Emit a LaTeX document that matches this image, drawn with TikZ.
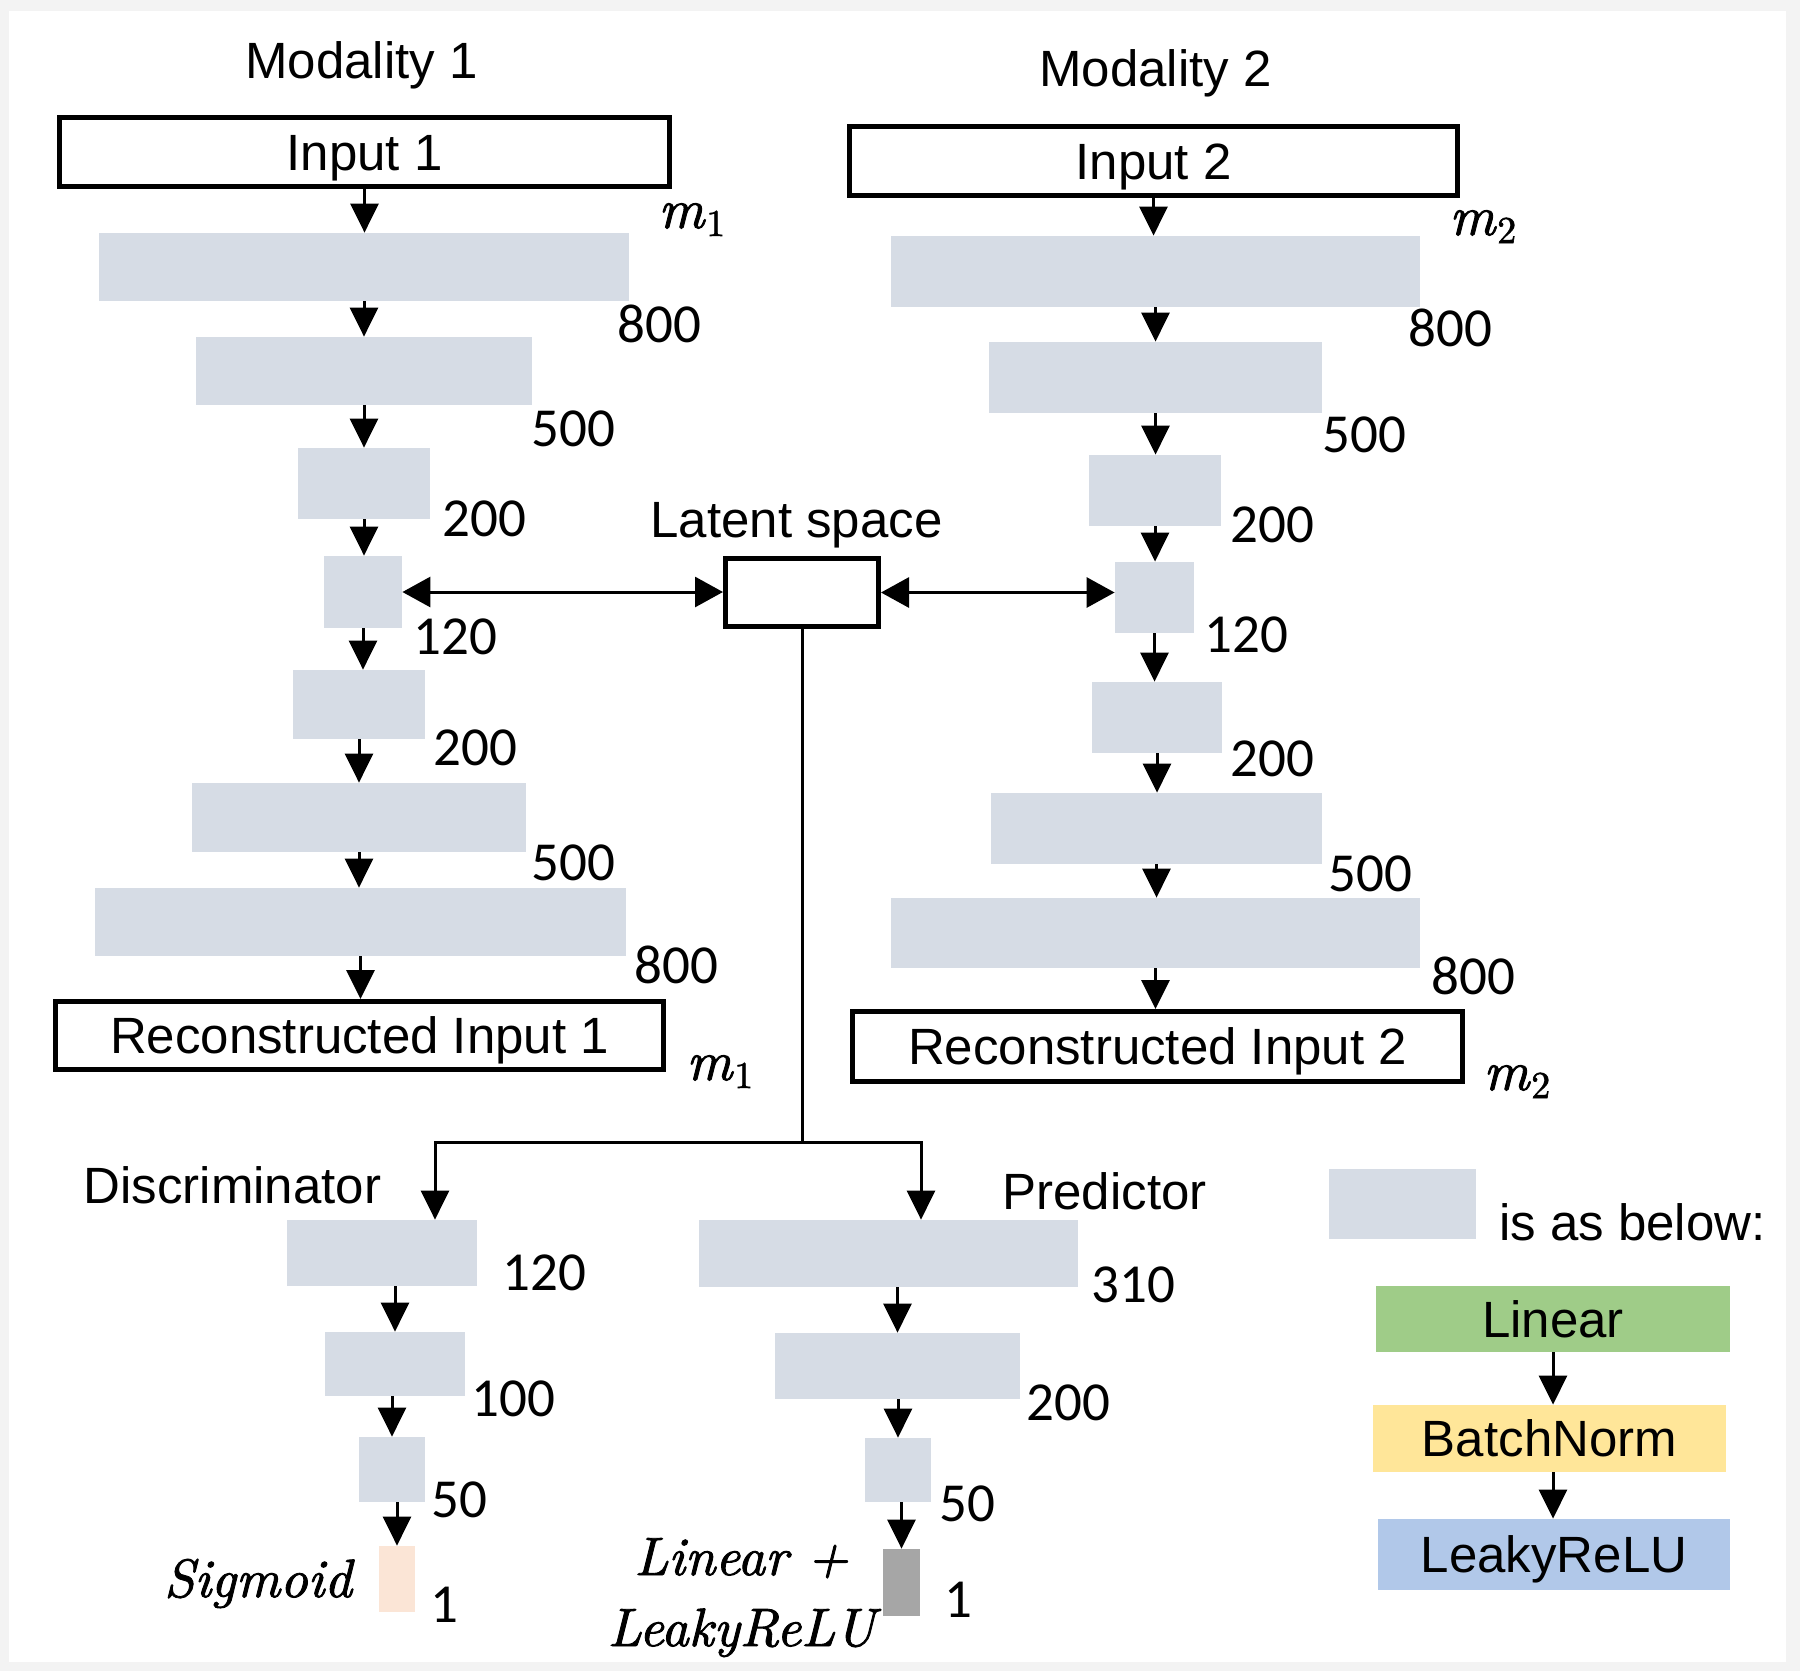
\documentclass[tikz,border=0pt]{standalone}
\usepackage{fontspec}
\newfontfamily\arialf{Liberation Sans}
\newfontfamily\numfont{Carlito}
\newfontfamily\itfont{lmroman10-italic.otf}[FakeBold=1.6]
\newfontfamily\itsubfont{lmroman10-regular.otf}[FakeBold=1.6]
\usetikzlibrary{arrows.meta,calc}
\definecolor{barc}{HTML}{D6DCE5}
\definecolor{greenc}{HTML}{9FCC88}
\definecolor{yellowc}{HTML}{FFE699}
\definecolor{bluec}{HTML}{B1C8E9}
\definecolor{peachc}{HTML}{FBE5D6}
\definecolor{greyc}{HTML}{A6A6A6}
\definecolor{framec}{HTML}{F3F3F3}
\newcommand{\msub}[2]{{\itfont #1}\kern1pt\raisebox{-4pt}{\itsubfont\fontsize{19}{20}\selectfont #2}}
\tikzset{
  bar/.style={fill=barc, inner sep=0pt},
  iobox/.style={draw, line width=2.5pt, fill=white, inner sep=0pt,
    font=\arialf\fontsize{25.5}{28}\selectfont, text height=18.3pt, text depth=0pt},
  legbox/.style={inner sep=0pt, font=\arialf\fontsize{25.5}{28}\selectfont,
    text height=18.3pt, text depth=0pt},
  sans/.style={inner sep=0pt, anchor=base, font=\arialf\fontsize{25.5}{28}\selectfont},
  num/.style={inner sep=0pt, anchor=base west, font=\numfont\fontsize{27.5}{30}\selectfont},
  mth/.style={inner sep=0pt, anchor=base west, font=\fontsize{28}{30}\selectfont},
  mthc/.style={inner sep=0pt, anchor=base, font=\itfont\fontsize{27}{30}\selectfont},
  arr/.style={line width=1.5pt, -{Triangle[length=14.5pt,width=14pt]}},
  darr/.style={line width=1.5pt, {Triangle[length=14pt,width=15pt]}-{Triangle[length=14pt,width=15pt]}},
  ln/.style={line width=1.5pt}
}
\begin{document}
\begin{tikzpicture}[x=0.5pt,y=-0.5pt]
\path[use as bounding box] (0,0) rectangle (1800,1671);
\fill[framec] (0,0) rectangle (1800,1671);
\fill[white] (9,11) rectangle (1786,1662);

% ---------- Modality 1 ----------
\node[sans] (mod1) at (361.5,78) {Modality 1};
\node[iobox, minimum width=305pt, minimum height=34.5pt] (in1) at (364.5,152) {Input 1};
\node[bar, minimum width=265pt, minimum height=34pt] (L1) at (364,267) {};
\node[bar, minimum width=168pt, minimum height=34pt] (L2) at (364,371) {};
\node[bar, minimum width=66pt, minimum height=35.5pt] (L3) at (364,483.5) {};
\node[bar, minimum width=39pt, minimum height=36pt] (L4) at (363,592) {};
\node[bar, minimum width=66pt, minimum height=34.5pt] (L5) at (359,704.5) {};
\node[bar, minimum width=167pt, minimum height=34.5pt] (L6) at (359,817.5) {};
\node[bar, minimum width=265.5pt, minimum height=34pt] (L7) at (360.5,922) {};
\node[iobox, minimum width=304pt, minimum height=34pt] (rec1) at (359.5,1035.5) {Reconstructed Input 1};

\node[mth] (mA) at (658,228) {\msub{m}{1}};
\node[num] (nL1) at (617,342) {800};
\node[num] (nL2) at (531,446) {500};
\node[num] (nL3) at (442,536) {200};
\node[num] (nL4) at (413,654) {120};
\node[num] (nL5) at (433,765) {200};
\node[num] (nL6) at (531,880) {500};
\node[num] (nL7) at (634,983) {800};
\node[mth] (mB) at (686,1080) {\msub{m}{1}};

\draw[arr] (in1.south) -- (in1.south |- L1.north);
\draw[arr] (L1.south) -- (L1.south |- L2.north);
\draw[arr] (L2.south) -- (L2.south |- L3.north);
\draw[arr] (L3.south) -- (L3.south |- L4.north);
\draw[arr] (L4.south) -- (L4.south |- L5.north);
\draw[arr] (L5.south) -- (L5.south |- L6.north);
\draw[arr] (L6.south) -- (L6.south |- L7.north);
\draw[arr] (L7.south) -- (L7.south |- rec1.north);

% ---------- Modality 2 ----------
\node[sans] (mod2) at (1155.5,86) {Modality 2};
\node[iobox, minimum width=304pt, minimum height=34.5pt] (in2) at (1153.5,161) {Input 2};
\node[bar, minimum width=264.5pt, minimum height=35.5pt] (R1) at (1155.5,271.5) {};
\node[bar, minimum width=166.5pt, minimum height=35.5pt] (R2) at (1155.5,377.5) {};
\node[bar, minimum width=66pt, minimum height=35.5pt] (R3) at (1155,490.5) {};
\node[bar, minimum width=39.5pt, minimum height=35.5pt] (R4) at (1154.5,597.5) {};
\node[bar, minimum width=65pt, minimum height=35.5pt] (R5) at (1157,717.5) {};
\node[bar, minimum width=165.5pt, minimum height=35.5pt] (R6) at (1156.5,828.5) {};
\node[bar, minimum width=264.5pt, minimum height=35pt] (R7) at (1155.5,933) {};
\node[iobox, minimum width=305pt, minimum height=35pt] (rec2) at (1157.5,1046.5) {Reconstructed Input 2};

\node[mth] (mC) at (1449,235) {\msub{m}{2}};
\node[num] (nR1) at (1408,346) {800};
\node[num] (nR2) at (1322,452) {500};
\node[num] (nR3) at (1230,542) {200};
\node[num] (nR4) at (1204,652) {120};
\node[num] (nR5) at (1230,776) {200};
\node[num] (nR6) at (1328,891) {500};
\node[num] (nR7) at (1431,994) {800};
\node[mth] (mD) at (1483,1090) {\msub{m}{2}};

\draw[arr] (in2.south) -- (in2.south |- R1.north);
\draw[arr] (R1.south) -- (R1.south |- R2.north);
\draw[arr] (R2.south) -- (R2.south |- R3.north);
\draw[arr] (R3.south) -- (R3.south |- R4.north);
\draw[arr] (R4.south) -- (R4.south |- R5.north);
\draw[arr] (R5.south) -- (R5.south |- R6.north);
\draw[arr] (R6.south) -- (R6.south |- R7.north);
\draw[arr] (R7.south) -- (R7.south |- rec2.north);

% ---------- Latent space ----------
\node[sans] (lattxt) at (796.5,537) {Latent space};
\node[draw, line width=2.5pt, fill=white, inner sep=0pt, minimum width=76.5pt, minimum height=34pt] (lat) at (802,592.5) {};
\draw[darr] (L4.east) -- (L4.east -| lat.west);
\draw[darr] (lat.east) -- (lat.east -| R4.west);

% ---------- split ----------
\coordinate (jm) at (801,1142);
\coordinate (jd) at (435,1142);
\coordinate (jp) at (921,1142);
\draw[ln] (lat.south) -- (lat.south |- jm);

% ---------- Discriminator ----------
\node[sans] (disc) at (232.5,1203) {Discriminator};
\node[bar, minimum width=95pt, minimum height=33pt] (D1) at (382,1253) {};
\node[bar, minimum width=70pt, minimum height=32pt] (D2) at (395,1364) {};
\node[bar, minimum width=33pt, minimum height=32.5pt] (D3) at (392,1469.5) {};
\node[fill=peachc, inner sep=0pt, minimum width=18pt, minimum height=33pt] (sig) at (397,1579) {};
\node[num] (nD1) at (502,1290) {120};
\node[num] (nD2) at (471,1416) {100};
\node[num] (nD3) at (431,1517) {50};
\node[num] (nD4) at (430,1622) {1};
\node[mthc] (sigtxt) at (258,1597) {Sigmoid};

\draw[arr] (jm) -- (jd) -- (jd |- D1.north);
\draw[arr] (D1.south -| D2.north) -- (D2.north);
\draw[arr] (D2.south -| D3.north) -- (D3.north);
\draw[arr] (D3.south -| sig.north) -- (sig.north);

% ---------- Predictor ----------
\node[sans] (pred) at (1104.5,1209) {Predictor};
\node[bar, minimum width=189.5pt, minimum height=33.5pt] (P1) at (888.5,1253.5) {};
\node[bar, minimum width=122.5pt, minimum height=33pt] (P2) at (897.5,1366) {};
\node[bar, minimum width=33pt, minimum height=32pt] (P3) at (898,1470) {};
\node[fill=greyc, inner sep=0pt, minimum width=18.5pt, minimum height=33.5pt] (gry) at (901.5,1582.5) {};
\node[num] (nP1) at (1091,1302) {310};
\node[num] (nP2) at (1026,1420) {200};
\node[num] (nP3) at (939,1521) {50};
\node[num] (nP4) at (944,1617) {1};
\node[mthc] (lintxt) at (741.5,1575) {Linear +};
\node[mthc] (lrtxt) at (741.5,1646) {LeakyReLU};

\draw[arr] (jm) -- (jp) -- (jp |- P1.north);
\draw[arr] (P1.south -| P2.north) -- (P2.north);
\draw[arr] (P2.south -| P3.north) -- (P3.north);
\draw[arr] (P3.south -| gry.north) -- (gry.north);

% ---------- Legend ----------
\node[bar, minimum width=73.5pt, minimum height=35pt] (lg) at (1402.5,1204) {};
\node[sans] (lgtxt) at (1632.5,1240) {is as below:};
\node[legbox, fill=greenc, minimum width=177pt, minimum height=33pt] (lin) at (1553,1319) {Linear};
\node[legbox, fill=yellowc, minimum width=176.5pt, minimum height=33.5pt] (bn) at (1549.5,1438.5) {BatchNorm};
\node[legbox, fill=bluec, minimum width=176pt, minimum height=35.5pt] (lr) at (1554,1554.5) {LeakyReLU};
\draw[arr] (lin.south) -- (lin.south |- bn.north);
\draw[arr] (bn.south -| lin.south) -- (lin.south |- lr.north);
\end{tikzpicture}
\end{document}
